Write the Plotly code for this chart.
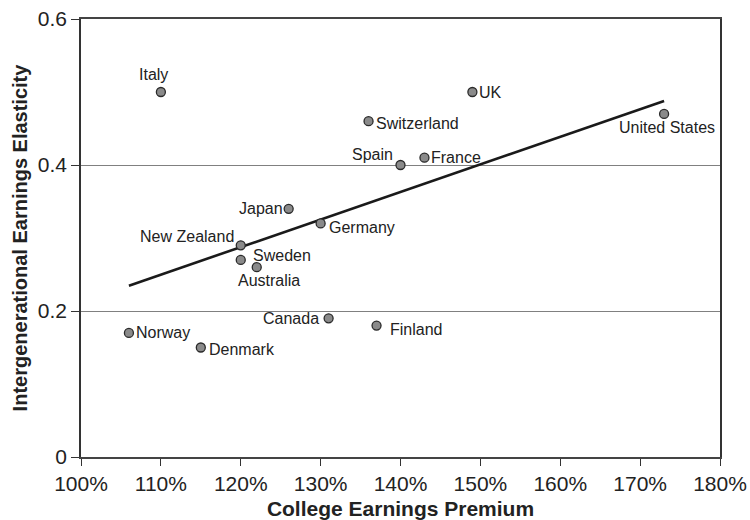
import numpy as np
import plotly.graph_objects as go

countries = ["Italy", "Switzerland", "Spain", "France", "Japan", "Germany",
             "New Zealand", "Sweden", "Australia", "UK", "United States",
             "Norway", "Denmark", "Canada", "Finland"]
premium = [110, 136, 140, 143, 126, 130, 120, 120, 122, 149, 173, 106, 115, 131, 137]
elasticity = [0.50, 0.46, 0.40, 0.41, 0.34, 0.32, 0.29, 0.27, 0.26, 0.50, 0.47,
              0.17, 0.15, 0.19, 0.18]

x_ticks = [100, 110, 120, 130, 140, 150, 160, 170, 180]
x_ticklabels = ["100%", "110%", "120%", "130%", "140%", "150%", "160%", "170%", "180%"]
y_ticks = [0, 0.2, 0.4, 0.6]
y_ticklabels = ["0", "0.2", "0.4", "0.6"]

# label placement: (xanchor, yanchor, xshift, yshift)
placement = {
    "Italy": ("center", "bottom", -7, 7),
    "Switzerland": ("left", "middle", 5, -2),
    "Spain": ("right", "middle", -6, 11),
    "France": ("left", "middle", 5, 0),
    "Japan": ("right", "middle", -4, 0),
    "Germany": ("left", "middle", 6, -4),
    "New Zealand": ("right", "middle", -5, 9),
    "Sweden": ("left", "middle", 10, 4),
    "Australia": ("center", "middle", 12, -13),
    "UK": ("left", "middle", 5, 0),
    "United States": ("center", "middle", 3, -14),
    "Norway": ("left", "middle", 5, 0),
    "Denmark": ("left", "middle", 6, -2),
    "Canada": ("right", "middle", -8, 0),
    "Finland": ("left", "middle", 11, -4),
}

slope, intercept = np.polyfit(premium, elasticity, 1)
fit_x = [min(premium), max(premium)]
fit_y = [slope * v + intercept for v in fit_x]

FONT = "Liberation Sans, Arial, Helvetica, sans-serif"

fig = go.Figure()
fig.add_trace(go.Scatter(
    x=fit_x, y=fit_y, mode="lines",
    line=dict(color="#1a1a1a", width=2.6), hoverinfo="skip", showlegend=False))
fig.add_trace(go.Scatter(
    x=premium, y=elasticity, mode="markers", text=countries,
    marker=dict(size=9, color="#8a8a8a", line=dict(color="#2a2a2a", width=1.3)),
    showlegend=False))

for c, xv, yv in zip(countries, premium, elasticity):
    xa, ya, xs, ys = placement[c]
    fig.add_annotation(x=xv, y=yv, text=c, showarrow=False,
                       xanchor=xa, yanchor=ya, xshift=xs, yshift=ys,
                       font=dict(family=FONT, size=16, color="#222222"))

fig.update_layout(
    width=750, height=520,
    margin=dict(l=81, r=30, t=19, b=63),
    paper_bgcolor="white", plot_bgcolor="white",
    font=dict(family=FONT, color="#222222"),
    xaxis=dict(
        range=[100, 180], tickvals=x_ticks, ticktext=x_ticklabels,
        tickfont=dict(size=21, color="#222222"),
        ticks="outside", ticklen=7, tickwidth=1.2, tickcolor="#333333",
        showline=True, linecolor="#444444", linewidth=1.5, mirror=True,
        showgrid=False, zeroline=False,
        title=dict(text="<b>College Earnings Premium</b>",
                   font=dict(size=21, color="#222222"), standoff=9),
        automargin=False,
    ),
    yaxis=dict(
        range=[0, 0.6], tickvals=y_ticks, ticktext=y_ticklabels,
        tickfont=dict(size=21, color="#222222"),
        ticks="outside", ticklen=8, tickwidth=1.2, tickcolor="#333333",
        showline=True, linecolor="#333333", linewidth=1.5, mirror=True,
        showgrid=True, gridcolor="#808080", gridwidth=1.2,
        zeroline=False,
        title=dict(text="<b>Intergenerational Earnings Elasticity</b>",
                   font=dict(size=20, color="#222222"), standoff=5),
        automargin=False,
    ),
)

fig.write_html("out.html",
               config={"displayModeBar": False},
               post_script="document.body.style.margin='0';document.body.style.padding='0';")
